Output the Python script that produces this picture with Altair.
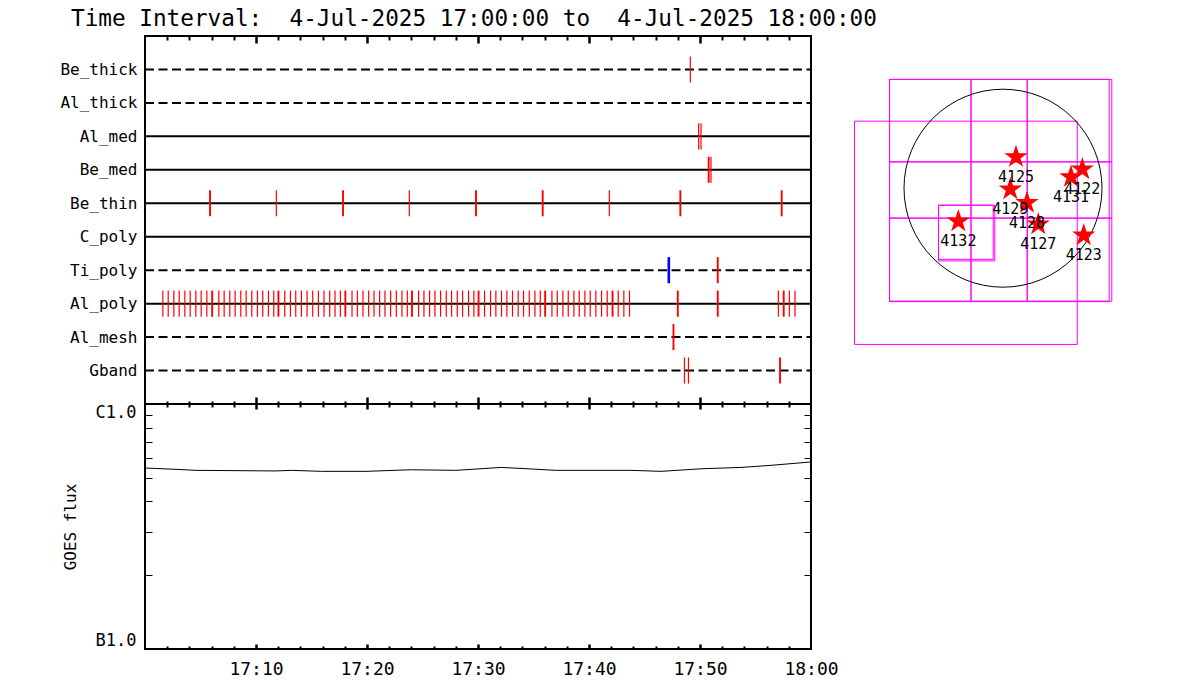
import altair as alt
import pandas as pd

# ---------------- text ----------------
title_text = "Time Interval:\u00a0\u00a04-Jul-2025 17:00:00 to\u00a0\u00a04-Jul-2025 18:00:00"
mono = "DejaVu Sans Mono"

# ---------------- rows of the filter/event panel ----------------
rows = ["Be_thick", "Al_thick", "Al_med", "Be_med", "Be_thin",
        "C_poly", "Ti_poly", "Al_poly", "Al_mesh", "Gband"]
dashed_rows = ["Be_thick", "Al_thick", "Ti_poly", "Al_mesh", "Gband"]

# time axis (minutes after 17:00 UT)
x_domain = [0, 60]
major_ticks = [10, 20, 30, 40, 50]
minor_ticks = [2, 4, 6, 8, 12, 14, 16, 18, 22, 24, 26, 28,
               32, 34, 36, 38, 42, 44, 46, 48, 52, 54, 56, 58]
label_ticks = [10, 20, 30, 40, 50, 60]
tick_labels = ["17:10", "17:20", "17:30", "17:40", "17:50", "18:00"]

# event times per row (minutes after 17:00), split by tick kind
be_thick_thin = [49.13]
al_med_thin = [49.88, 50.09]
be_med_thin = [50.99]
be_med_wide = [50.78]
be_thin_thin = [11.83, 23.81, 41.83]
be_thin_wide = [5.86, 17.84, 29.82, 35.83, 48.23, 57.36]
ti_poly_wide = [51.60]
ti_poly_blue = [47.19]
al_poly_thin = [1.61, 2.09, 2.60, 3.08, 3.59, 4.07, 4.58, 5.06, 5.57,
                6.65, 7.13, 7.64, 8.12, 8.63, 9.11, 9.62, 10.13, 10.61, 11.12, 11.60,
                12.59, 13.10, 13.58, 14.09, 14.60, 15.11, 15.62, 16.13, 16.64, 17.12, 17.60,
                18.65, 19.13, 19.64, 20.15, 20.63, 21.14, 21.62, 22.13, 22.64, 23.15, 23.63,
                24.65, 25.13, 25.64, 26.12, 26.63, 27.14, 27.62, 28.13, 28.61, 29.15, 29.63,
                30.59, 31.13, 31.61, 32.12, 32.60, 33.11, 33.62, 34.10, 34.62, 35.13, 35.61,
                36.66, 37.14, 37.65, 38.13, 38.64, 39.12, 39.63, 40.11, 40.62, 41.13, 41.64,
                42.63, 43.14, 43.65, 57.06, 58.05, 58.56]
al_poly_wide = [6.05, 12.02, 18.05, 24.05, 30.05, 36.05, 42.12, 48.00, 51.60, 57.54]
al_mesh_wide = [47.61]
gband_thin = [48.60, 48.96]
gband_wide = [57.21]

# ---------------- GOES flux ----------------
goes_minutes = [0, 2.8, 4.6, 11.8, 13.2, 15.9, 19.9, 24.0, 28.0, 32.1,
                34.8, 37.0, 43.8, 46.5, 50.1, 53.7, 56.4, 60]
goes_flux = [5.48e-7, 5.41e-7, 5.36e-7, 5.33e-7, 5.36e-7, 5.31e-7, 5.31e-7, 5.39e-7, 5.36e-7, 5.51e-7,
             5.43e-7, 5.36e-7, 5.36e-7, 5.31e-7, 5.44e-7, 5.51e-7, 5.62e-7, 5.80e-7]
goes_domain = [1e-7, 1e-6]
goes_label_values = [1e-7, 1e-6]
goes_labels = ["B1.0", "C1.0"]
goes_minor = [2e-7, 3e-7, 4e-7, 5e-7, 6e-7, 7e-7, 8e-7, 9e-7]

# ---------------- solar map (arcsec) ----------------
disk_center_x = [0]
disk_center_y = [0]
grid_x = [-1100, -310, 235, 1055]
grid_y = [-1095, -290, 255, 1055]
fov_x0 = [-1100, -1440, -625, -625]
fov_x1 = [1030, 720, -80, -95]
fov_y0 = [-1100, -1515, -705, -690]
fov_y1 = [1055, 650, -165, -165]
ar_num = ["4122", "4123", "4125", "4127", "4128", "4129", "4131", "4132"]
ar_x = [769, 783, 126, 342, 233, 71, 659, -433]
ar_y = [183, -457, 303, -350, -141, -11, 109, -321]

# ---------------- tables ----------------
ev = []
def add(row, times, kind):
    for t in times:
        ev.append({"row": row, "idx": rows.index(row) + 1, "t": t, "kind": kind})

add("Be_thick", be_thick_thin, "thin")
add("Al_med", al_med_thin, "thin")
add("Be_med", be_med_thin, "thin")
add("Be_med", be_med_wide, "wide")
add("Be_thin", be_thin_thin, "thin")
add("Be_thin", be_thin_wide, "wide")
add("Ti_poly", ti_poly_wide, "wide")
add("Al_poly", al_poly_thin, "thin")
add("Al_poly", al_poly_wide, "wide")
add("Al_mesh", al_mesh_wide, "wide")
add("Gband", gband_thin, "thin")
add("Gband", gband_wide, "wide")
add("Ti_poly", ti_poly_blue, "blue")
ev_df = pd.DataFrame(ev)

lines_df = pd.DataFrame({
    "row": rows,
    "idx": list(range(1, len(rows) + 1)),
    "t0": x_domain[0],
    "t1": x_domain[1],
    "dashed": [r in dashed_rows for r in rows],
})

goes_df = pd.DataFrame({"t": goes_minutes, "flux": goes_flux})

cells = []
for i in range(len(grid_x) - 1):
    for j in range(len(grid_y) - 1):
        cells.append({"x0": grid_x[i], "x1": grid_x[i + 1], "y0": grid_y[j], "y1": grid_y[j + 1]})
for a, b, c, d in zip(fov_x0, fov_x1, fov_y0, fov_y1):
    cells.append({"x0": a, "x1": b, "y0": c, "y1": d})
fov_df = pd.DataFrame(cells)
disk_df = pd.DataFrame({"x": disk_center_x, "y": disk_center_y})
ar_df = pd.DataFrame({"num": ar_num, "x": ar_x, "y": ar_y})

# ---------------- layout constants ----------------
W = 666
H1 = 368
H2 = 245
STAR = ("M0,-1 L0.2245,-0.309 L0.951,-0.309 L0.363,0.118 L0.588,0.809 "
        "L0,0.382 L-0.588,0.809 L-0.363,0.118 L-0.951,-0.309 L-0.2245,-0.309 Z")


def in_list(vals):
    return "indexof([" + ",".join(str(v) for v in vals) + "], datum.value) >= 0"


def edge_x_axis(orient, offset, major_len, minor_len):
    return alt.Axis(
        orient=orient, offset=offset, values=major_ticks + minor_ticks,
        tickSize={"condition": {"test": in_list(major_ticks), "value": major_len}, "value": minor_len},
        tickWidth={"condition": {"test": in_list(major_ticks), "value": 2.5}, "value": 2},
        tickColor="black", labels=False, domain=False, grid=False, title=None,
        minExtent=0)


def label_expr(values, labels):
    expr = "''"
    for v, lab in reversed(list(zip(values, labels))):
        expr = f"(abs(datum.value - {v}) < {abs(v) * 1e-3 + 1e-12}) ? '{lab}' : {expr}"
    return expr


row_label_expr = "[" + ",".join(f"'{r}'" for r in rows) + "][datum.value - 1]"

xs = alt.Scale(domain=x_domain)
ys_rows = alt.Scale(domain=[0, len(rows) + 1], reverse=True)
mx = alt.Scale(domain=[-960, 960], range=[759, 957])
my = alt.Scale(domain=[-960, 960], range=[251.2, 53.2])

row_axis = alt.Axis(orient="left", values=list(range(1, len(rows) + 1)),
                    labelExpr=row_label_expr, ticks=False, domain=False, grid=False,
                    labelPadding=8, labelFont=mono, labelFontSize=16, labelColor="black",
                    title=None, minExtent=131)

# ---------------- top panel ----------------
solid = alt.Chart(lines_df).transform_filter("!datum.dashed").mark_rule(
    color="black", strokeWidth=2
).encode(
    x=alt.X("t0:Q", scale=xs, axis=edge_x_axis("bottom", -H1, 7, 4)),
    x2="t1:Q",
    y=alt.Y("idx:Q", scale=ys_rows, axis=row_axis),
)

dashed = alt.Chart(lines_df).transform_filter("datum.dashed").mark_rule(
    color="black", strokeWidth=2, strokeDash=[9, 4.5]
).encode(
    x=alt.X("t0:Q", scale=xs, axis=edge_x_axis("top", -H1, 7, 3)),
    x2="t1:Q",
    y=alt.Y("idx:Q", scale=ys_rows, axis=None),
)

events = alt.Chart(ev_df).transform_calculate(
    y0="datum.idx - 0.39", y1="datum.idx + 0.39"
).mark_rule().encode(
    x=alt.X("t:Q", scale=xs, axis=None),
    y=alt.Y("y0:Q", scale=ys_rows, axis=None),
    y2="y1:Q",
    color=alt.Color("kind:N", legend=None,
                    scale=alt.Scale(domain=["thin", "wide", "blue"],
                                    range=["#ff0000", "#ff0000", "#0000ff"])),
    strokeWidth=alt.StrokeWidth("kind:N", legend=None,
                                scale=alt.Scale(domain=["thin", "wide", "blue"],
                                                range=[1.2, 2.6, 4])),
)

fovs = alt.Chart(fov_df).mark_rect(
    fillOpacity=0, stroke="#ff00ff", strokeWidth=1
).encode(
    x=alt.X("x0:Q", scale=mx, axis=None), x2="x1:Q",
    y=alt.Y("y0:Q", scale=my, axis=None), y2="y1:Q",
)

disk = alt.Chart(disk_df).mark_point(
    shape="circle", size=198 ** 2, filled=False, color="black", strokeWidth=1, opacity=1
).encode(
    x=alt.X("x:Q", scale=mx, axis=None),
    y=alt.Y("y:Q", scale=my, axis=None),
)

stars = alt.Chart(ar_df).mark_point(
    shape=STAR, size=600, filled=True, color="#ff0000", opacity=1, strokeWidth=0
).encode(
    x=alt.X("x:Q", scale=mx, axis=None),
    y=alt.Y("y:Q", scale=my, axis=None),
)

star_labels = alt.Chart(ar_df).mark_text(
    dy=20, font=mono, fontSize=15, color="black", baseline="middle", align="center"
).encode(
    x=alt.X("x:Q", scale=mx, axis=None),
    y=alt.Y("y:Q", scale=my, axis=None),
    text="num:N",
)

top = alt.layer(solid, dashed, events, fovs, disk, stars, star_labels).resolve_scale(
    x="independent", y="independent"
).properties(width=W, height=H1)

# ---------------- bottom panel ----------------
gx = alt.Scale(domain=x_domain)
gy = alt.Scale(type="log", domain=goes_domain)

goes_line = alt.Chart(goes_df).mark_line(color="black", strokeWidth=1).encode(
    x=alt.X("t:Q", scale=gx, axis=alt.Axis(
        orient="bottom", values=label_ticks, labelExpr=label_expr(label_ticks, tick_labels),
        ticks=False, domain=False, grid=False, labelFlush=False, labelPadding=11,
        labelFont=mono, labelFontSize=18, labelColor="black", title=None)),
    y=alt.Y("flux:Q", scale=gy, axis=alt.Axis(
        orient="left", values=goes_label_values,
        labelExpr=label_expr(goes_label_values, goes_labels),
        ticks=False, domain=False, grid=False, labelFlush=True, labelPadding=9,
        labelFont=mono, labelFontSize=17, labelColor="black",
        title="GOES flux", titleFont=mono, titleFontSize=16, titleFontWeight="normal",
        titleColor="black", titlePadding=17, minExtent=50, maxExtent=50)),
)

goes_ticks_a = alt.Chart(goes_df).mark_line(opacity=0).encode(
    x=alt.X("t:Q", scale=gx, axis=edge_x_axis("bottom", -H2, 5, 3)),
    y=alt.Y("flux:Q", scale=gy, axis=alt.Axis(
        orient="right", offset=-W, values=goes_minor, tickSize=7, tickWidth=1,
        tickColor="black", labels=False, domain=False, grid=False, title=None, minExtent=0)),
)

goes_ticks_b = alt.Chart(goes_df).mark_line(opacity=0).encode(
    x=alt.X("t:Q", scale=gx, axis=edge_x_axis("top", -H2, 5, 3)),
    y=alt.Y("flux:Q", scale=gy, axis=alt.Axis(
        orient="left", offset=-W, values=goes_minor, tickSize=7, tickWidth=1,
        tickColor="black", labels=False, domain=False, grid=False, title=None, minExtent=0)),
)

bottom = alt.layer(goes_line, goes_ticks_a, goes_ticks_b).resolve_axis(
    x="independent", y="independent"
).properties(width=W, height=H2)

chart = alt.vconcat(
    top, bottom, spacing=0, bounds="flush",
    title=alt.TitleParams(title_text, anchor="start", font=mono, fontSize=22.7,
                          fontWeight="normal", color="black", dx=58, offset=3),
).properties(
    padding={"left": 5, "top": 0, "right": 5, "bottom": 5},
    background="white",
).configure_view(
    stroke="black", strokeWidth=2
).configure_axis(grid=False)

chart.save("out.html", embed_options={"renderer": "svg", "actions": False})
